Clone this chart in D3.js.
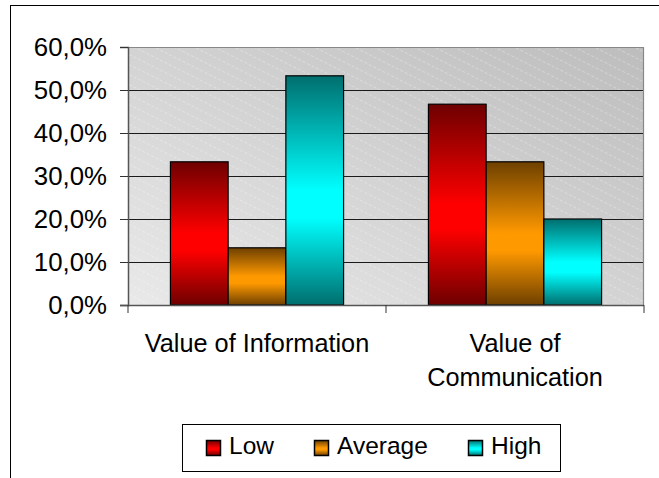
<!DOCTYPE html>
<html><head><meta charset="utf-8">
<script src="https://cdn.jsdelivr.net/npm/d3@7"></script>
<style>
html,body{margin:0;padding:0;background:#fff;}
svg{display:block;font-family:"Liberation Sans",Arial,sans-serif;}
</style></head>
<body>
<script>
const categories = [["Value of Information"], ["Value of", "Communication"]];
const categoryKeys = ["Value of Information", "Value of Communication"];
const seriesNames = ["Low", "Average", "High"];
const lowValues = [0.333, 0.467];
const averageValues = [0.133, 0.333];
const highValues = [0.533, 0.200];
const yTicks = [0, 0.1, 0.2, 0.3, 0.4, 0.5, 0.6];

const seriesValues = [lowValues, averageValues, highValues];
const palette = {
  Low: ["#6e0000", "#ff0000"],
  Average: ["#6e4000", "#ff9900"],
  High: ["#006e6e", "#00ffff"]
};

const W = 659, H = 478;
const plot = {left: 128, top: 47, right: 644, bottom: 305};
const svg = d3.select("body").append("svg").attr("width", W).attr("height", H);
const defs = svg.append("defs");

const bg = defs.append("linearGradient").attr("id", "bgGrad")
  .attr("x1", "0").attr("y1", "1").attr("x2", "1").attr("y2", "0");
bg.append("stop").attr("offset", "0").attr("stop-color", "#e9e9e9");
bg.append("stop").attr("offset", "1").attr("stop-color", "#bdbdbd");

const pat = defs.append("pattern").attr("id", "hatch").attr("patternUnits", "userSpaceOnUse")
  .attr("width", 40).attr("height", 20);
[[-40, -10], [0, 0], [-40, 10], [0, 20], [-40,-30],[0,-20]].forEach(([dx, dy]) => {
  pat.append("line").attr("x1", dx).attr("y1", dy).attr("x2", dx + 80).attr("y2", dy + 40)
    .attr("stroke", "#ffffff").attr("stroke-opacity", 0.4).attr("stroke-width", 0.8)
    .attr("stroke-dasharray", "3,2");
});

seriesNames.forEach(s => {
  const g = defs.append("linearGradient").attr("id", "g_" + s)
    .attr("x1", 0).attr("y1", 0).attr("x2", 0).attr("y2", 1);
  const [dark, bright] = palette[s];
  g.append("stop").attr("offset", "0").attr("stop-color", dark);
  g.append("stop").attr("offset", "0.5").attr("stop-color", bright);
  g.append("stop").attr("offset", "0.62").attr("stop-color", bright);
  g.append("stop").attr("offset", "1").attr("stop-color", dark);
});

svg.append("line").attr("x1", 10).attr("y1", 5.5).attr("x2", W).attr("y2", 5.5).attr("stroke", "#000");
svg.append("line").attr("x1", 10.5).attr("y1", 5).attr("x2", 10.5).attr("y2", H).attr("stroke", "#000");

const x0 = d3.scaleBand().domain(categoryKeys).range([plot.left, plot.right]).paddingInner(0).paddingOuter(0);
const x1 = d3.scaleBand().domain(seriesNames).range([0, x0.bandwidth()]).paddingInner(0).paddingOuter(0.735);
const y = d3.scaleLinear().domain([0, 0.6]).range([plot.bottom, plot.top]);

svg.append("rect").attr("x", plot.left).attr("y", plot.top)
  .attr("width", plot.right - plot.left).attr("height", plot.bottom - plot.top).attr("fill", "url(#bgGrad)");
svg.append("rect").attr("x", plot.left).attr("y", plot.top)
  .attr("width", plot.right - plot.left).attr("height", plot.bottom - plot.top).attr("fill", "url(#hatch)");

svg.append("g").selectAll("line").data(yTicks.filter(t => t > 0 && t < 0.6)).join("line")
  .attr("x1", plot.left).attr("x2", plot.right)
  .attr("y1", d => Math.round(y(d)) + 0.5).attr("y2", d => Math.round(y(d)) + 0.5)
  .attr("stroke", "#1a1a1a").attr("stroke-width", 1);

svg.append("path").attr("d", `M${plot.left},${plot.top + 0.5}H${plot.right - 0.5}V${plot.bottom}`)
  .attr("fill", "none").attr("stroke", "#888").attr("stroke-width", 1.2);

const groups = svg.append("g").selectAll("g").data(categoryKeys).join("g")
  .attr("transform", d => `translate(${x0(d)},0)`);
groups.selectAll("rect").data((d, i) => seriesNames.map((s, k) => ({s, v: seriesValues[k][i]}))).join("rect")
  .attr("x", d => x1(d.s)).attr("width", x1.bandwidth())
  .attr("y", d => y(d.v)).attr("height", d => y(0) - y(d.v))
  .attr("fill", d => `url(#g_${d.s})`).attr("stroke", "#000").attr("stroke-width", 1.2);

const yAxis = d3.axisLeft(y).tickValues(yTicks).tickSize(8).tickPadding(13)
  .tickFormat(d => (d * 100).toFixed(1).replace(".", ",") + "%");
const yg = svg.append("g").attr("transform", `translate(${plot.left},0)`).call(yAxis);
yg.select(".domain").attr("stroke", "#555").attr("stroke-width", 1.5);
yg.selectAll(".tick line").attr("stroke", "#333");
yg.selectAll("text").attr("font-size", 25.8).attr("fill", "#000").attr("font-family", "Liberation Sans, Arial, sans-serif");

svg.append("line").attr("x1", plot.left - 8).attr("x2", plot.right).attr("y1", plot.bottom + 0.5).attr("y2", plot.bottom + 0.5)
  .attr("stroke", "#555").attr("stroke-width", 1.5);
const tickXs = categoryKeys.map(c => x0(c)).concat([x0.range()[1]]);
svg.append("g").selectAll("line").data(tickXs).join("line")
  .attr("x1", d => d).attr("x2", d => d).attr("y1", plot.bottom).attr("y2", plot.bottom + 8)
  .attr("stroke", "#333");
const labels = svg.append("g").selectAll("text").data(categoryKeys).join("text")
  .attr("text-anchor", "middle").attr("font-size", 25.3).attr("fill", "#000")
  .attr("transform", d => `translate(${x0(d) + x0.bandwidth() / 2},352)`);
labels.selectAll("tspan").data((d, i) => categories[i]).join("tspan")
  .attr("x", 0).attr("y", (d, j) => j * 34).text(d => d);

const lg = svg.append("g");
lg.append("rect").attr("x", 182.5).attr("y", 424.5).attr("width", 378).attr("height", 47)
  .attr("fill", "#fff").attr("stroke", "#000");
const legX = [206, 314, 468];
seriesNames.forEach((s, i) => {
  lg.append("rect").attr("x", legX[i] + 0.5).attr("y", 440.5).attr("width", 14).attr("height", 15)
    .attr("fill", `url(#g_${s})`).attr("stroke", "#000").attr("stroke-width", 1.5);
  lg.append("text").attr("x", legX[i] + 23).attr("y", 454).attr("font-size", 24.5).attr("fill", "#000").text(s);
});
</script>
</body></html>
